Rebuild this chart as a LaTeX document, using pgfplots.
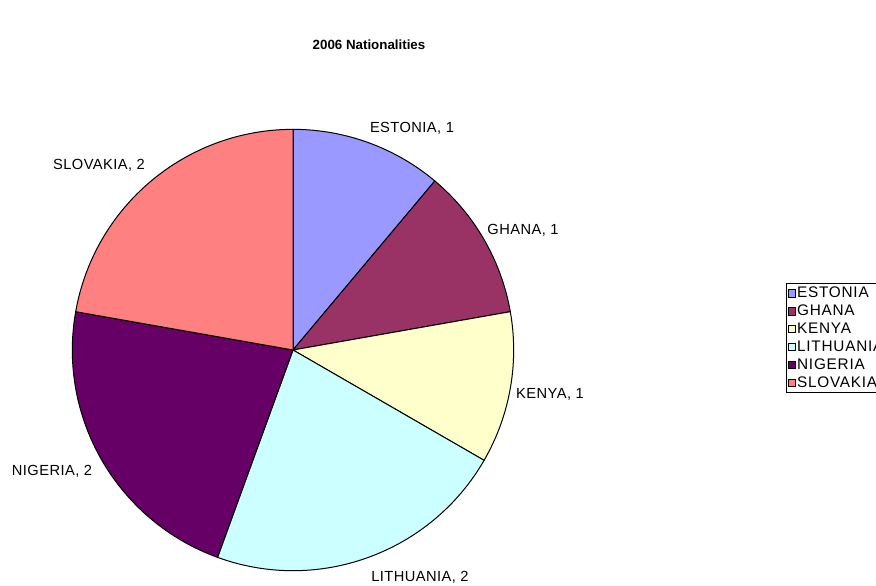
\documentclass[border=0pt]{standalone}
\usepackage{pgfplots}
\pgfplotsset{compat=1.18}
\usepackage{pgfplotstable}
\usepackage{fontspec}
\setmainfont{Liberation Sans}
\newfontfamily\lblfamily[LetterSpace=3]{Liberation Sans}
\newfontfamily\legfamily[LetterSpace=5]{Liberation Sans}

% Excel classic pie colours
\definecolor{colESTONIA}{HTML}{9999FF}
\definecolor{colGHANA}{HTML}{993366}
\definecolor{colKENYA}{HTML}{FFFFCC}
\definecolor{colLITHUANIA}{HTML}{CCFFFF}
\definecolor{colNIGERIA}{HTML}{660066}
\definecolor{colSLOVAKIA}{HTML}{FF8080}

% name, count, label position (pixels of the reference)
\pgfplotstableread{
name      value lx  ly
ESTONIA   1     412 128
GHANA     1     523 230
KENYA     1     550 394
LITHUANIA 2     420 577
NIGERIA   2     52  471
SLOVAKIA  2     99  165
}\nationdata

\newcommand\lblfont{\lblfamily\fontsize{11pt}{12pt}\selectfont}
\def\radius{165.5pt}

\begin{document}
\begin{tikzpicture}
\begin{axis}[
    scale only axis,
    width=657pt, height=439.5pt,
    xmin=0, xmax=876, ymin=0, ymax=586,
    y dir=reverse,
    hide axis,
    clip=false,
    legend image code/.code={\draw[#1] (0pt,-2.7pt) rectangle (5.4pt,2.7pt);},
    legend style={
        at={(axis description cs:0.8973,0.517)}, anchor=north west,
        draw=black, line width=0.75pt,
        inner sep=1pt, row sep=0.4pt,
        font=\legfamily\fontsize{11.5pt}{12pt}\selectfont,
        nodes={inner sep=0.8pt, text height=8.8pt, text depth=2.6pt, anchor=west},
    },
    legend cell align=left,
]
\pgfplotstablegetrowsof{\nationdata}
\pgfmathtruncatemacro\lastrow{\pgfplotsretval-1}
\def\total{0}
\pgfplotsforeachungrouped \i in {0,...,\lastrow} {
    \pgfplotstablegetelem{\i}{value}\of\nationdata
    \pgfmathsetmacro\total{\total+\pgfplotsretval}
}
\def\cum{0}
\pgfplotsforeachungrouped \i in {0,...,\lastrow} {
    \pgfplotstablegetelem{\i}{value}\of\nationdata \let\val\pgfplotsretval
    \pgfplotstablegetelem{\i}{name}\of\nationdata \let\nm\pgfplotsretval
    \pgfplotstablegetelem{\i}{lx}\of\nationdata \let\lx\pgfplotsretval
    \pgfplotstablegetelem{\i}{ly}\of\nationdata \let\ly\pgfplotsretval
    \pgfmathsetmacro\sa{90-360*\cum/\total}
    \pgfmathsetmacro\ea{\sa-360*\val/\total}
    \edef\tmp{\noexpand\fill[fill=col\nm, draw=black, line width=0.75pt]
        (axis cs:293,350) -- ++(\sa:\radius)
        arc[start angle=\sa, end angle=\ea, radius=\radius] -- cycle;
        \noexpand\node[font=\noexpand\lblfont, text=black] at (axis cs:\lx,\ly) {\nm, \val};}
    \tmp
    \pgfmathsetmacro\cum{\cum+\val}
}
\node[font=\bfseries\fontsize{10pt}{12pt}\selectfont] at (axis cs:369,45) {2006 Nationalities};

\addlegendimage{fill=colESTONIA, draw=black, line width=0.75pt}
\addlegendimage{fill=colGHANA, draw=black, line width=0.75pt}
\addlegendimage{fill=colKENYA, draw=black, line width=0.75pt}
\addlegendimage{fill=colLITHUANIA, draw=black, line width=0.75pt}
\addlegendimage{fill=colNIGERIA, draw=black, line width=0.75pt}
\addlegendimage{fill=colSLOVAKIA, draw=black, line width=0.75pt}
\legend{ESTONIA,GHANA,KENYA,LITHUANIA,NIGERIA,SLOVAKIA}
\end{axis}
\pgfresetboundingbox
\path[use as bounding box] (0,0) rectangle (657pt,439.5pt);
\end{tikzpicture}
\end{document}
